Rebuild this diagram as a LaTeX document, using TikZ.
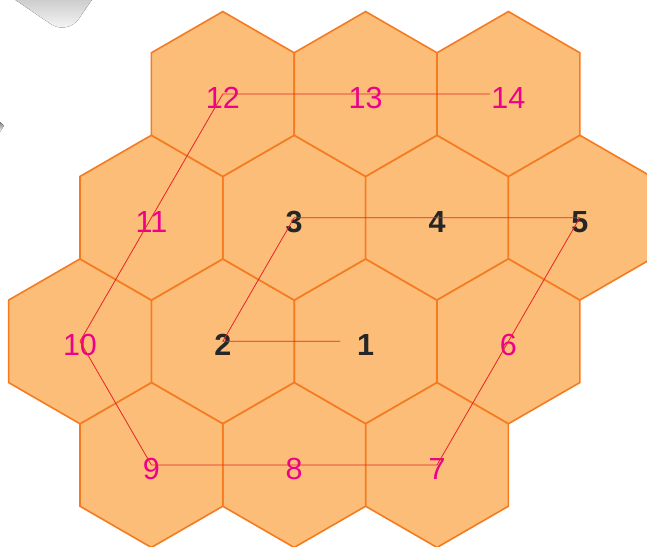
\documentclass[tikz,border=0pt]{standalone}
\usepackage{fontspec}
\setmainfont{Liberation Sans}
\definecolor{hexfill}{HTML}{FBBD77}
\definecolor{hexline}{HTML}{F47B20}
\definecolor{pathred}{HTML}{E8232A}
\definecolor{pinklab}{HTML}{EC008C}
\definecolor{shade}{HTML}{C8C8C8}
\begin{document}
\begin{tikzpicture}[x=1pt,y=-1pt,
  hexcell/.style={fill=hexfill,draw=hexline,line width=1.6pt,line join=miter},
  pinknum/.style={text=pinklab,inner sep=0pt,font=\fontsize{30.5}{30.5}\selectfont},
  blacknum/.style={text=black!85,inner sep=0pt,font=\fontsize{30.5}{30.5}\selectfont\bfseries},
  route/.style={draw=pathred,line width=0.8pt}]
\useasboundingbox (0,0) rectangle (647,546);
% grey shapes at the top left
\fill[shade,rounded corners=20pt] (-33,-33) -- (67.3,35.3) -- (130,-55) -- cycle;
\fill[shade] (0,122) -- (4,125.5) -- (0,132) -- cycle;
% hexagon centres
\def\R{82.45}
\foreach \n/\k/\r in {10/0/2, 11/1/1, 9/1/3, 12/2/0, 2/2/2, 3/3/1, 8/3/3, 13/4/0, 1/4/2, 4/5/1, 7/5/3, 14/6/0, 6/6/2, 5/7/1}{
  \coordinate (c\n) at ({80+\k*71.4},{94+\r*123.67});
}
\foreach \n in {1,...,14}{
  \path[hexcell] (c\n) ++(90:\R) -- ++(-30:\R) -- ++(-90:\R) -- ++(-150:\R) -- ++(150:\R) -- ++(90:\R) -- cycle;
}
% labels
\foreach \n in {1,...,5}{
  \node[blacknum] (l\n) at ([yshift=-4pt]c\n) {\n};
}
\foreach \n in {6,...,14}{
  \node[pinknum] (l\n) at ([yshift=-4pt]c\n) {\n};
}
% route
\coordinate (e1) at (340,341.3);
\coordinate (e14) at (490,94);
\draw[route] (e14) -- (c12) -- (c10) -- (c9) -- (c7) -- (c5) -- (c3) -- (c2) -- (e1);
\end{tikzpicture}
\end{document}
